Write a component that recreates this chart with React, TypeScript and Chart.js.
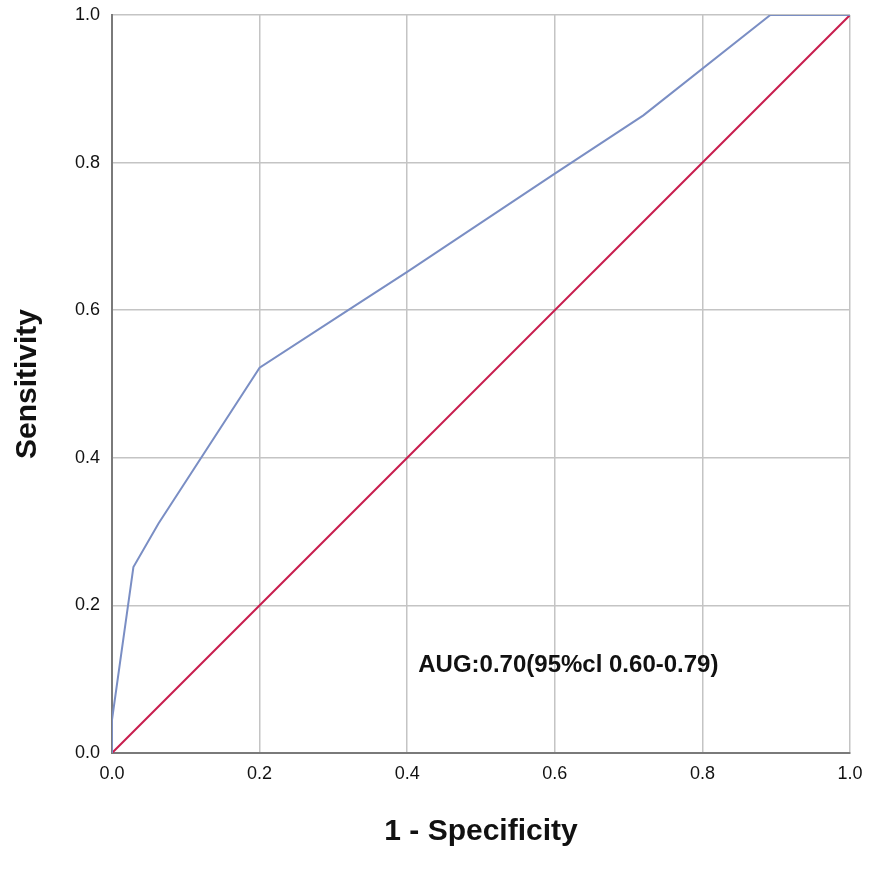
import { useEffect, useRef } from "react";
import { Chart, ChartConfiguration, Plugin, registerables } from "chart.js";

Chart.register(...registerables);

// ROC curve
const rocFpr = [0, 0, 0.029, 0.063, 0.2, 0.32, 0.4, 0.6, 0.72, 0.892, 1.0];
const rocTpr = [0, 0.045, 0.252, 0.311, 0.522, 0.6, 0.652, 0.785, 0.864, 1.0, 1.0];

// chance line
const refFpr = [0, 1];
const refTpr = [0, 1];

const axisTicks = [0, 0.2, 0.4, 0.6, 0.8, 1.0];

const annotationText = "AUG:0.70(95%cl 0.60-0.79)";
const annotationAt = { x: 0.415, y: 0.11 };

const FONT = "'Liberation Sans', Arial, sans-serif";

const annotationPlugin: Plugin = {
  id: "aucLabel",
  afterDatasetsDraw(chart) {
    const { ctx, scales } = chart;
    const x = scales.x.getPixelForValue(annotationAt.x);
    const y = scales.y.getPixelForValue(annotationAt.y);
    ctx.save();
    ctx.font = `bold 24px ${FONT}`;
    ctx.fillStyle = "#111";
    ctx.textAlign = "left";
    ctx.textBaseline = "alphabetic";
    ctx.fillText(annotationText, x, y);
    ctx.restore();
  },
};

export default function App() {
  const canvasRef = useRef<HTMLCanvasElement>(null);
  const chartRef = useRef<Chart | null>(null);

  useEffect(() => {
    if (!canvasRef.current) return;
    const ctx = canvasRef.current.getContext("2d");
    if (!ctx) return;

    if (chartRef.current) chartRef.current.destroy();

    const config: ChartConfiguration = {
      type: "scatter",
      data: {
        datasets: [
          {
            label: "ROC",
            data: rocFpr.map((x, i) => ({ x, y: rocTpr[i] })),
            showLine: true,
            borderColor: "#7a8ec4",
            borderWidth: 2,
            pointRadius: 0,
            tension: 0,
          },
          {
            label: "Reference",
            data: refFpr.map((x, i) => ({ x, y: refTpr[i] })),
            showLine: true,
            borderColor: "#c81e4e",
            borderWidth: 2,
            pointRadius: 0,
            tension: 0,
          },
        ],
      },
      options: {
        responsive: false,
        animation: false,
        layout: { padding: { top: 15, right: 36, left: 0, bottom: 0 } },
        plugins: {
          legend: { display: false },
          tooltip: { enabled: false },
        },
        scales: {
          x: {
            type: "linear",
            min: 0,
            max: 1,
            afterFit: (scale) => {
              scale.height = 117;
            },
            afterBuildTicks: (scale) => {
              scale.ticks = axisTicks.map((value) => ({ value }));
            },
            grid: { color: "#c4c4c4", lineWidth: 1.5, drawTicks: false },
            border: { color: "#7a7a7a", width: 2 },
            ticks: {
              padding: 10,
              color: "#111",
              font: { family: FONT, size: 18 },
              callback: (v) => Number(v).toFixed(1),
            },
            title: {
              display: true,
              text: "1 - Specificity",
              color: "#111",
              font: { family: FONT, size: 30, weight: "bold", lineHeight: 1 },
              padding: { top: 0, bottom: 23 },
            },
          },
          y: {
            type: "linear",
            min: 0,
            max: 1,
            afterFit: (scale) => {
              scale.width = 112;
              scale.paddingTop = 0;
              scale.paddingBottom = 0;
            },
            afterBuildTicks: (scale) => {
              scale.ticks = axisTicks.map((value) => ({ value }));
            },
            grid: { color: "#c4c4c4", lineWidth: 1.5, drawTicks: false },
            border: { color: "#7a7a7a", width: 2 },
            ticks: {
              padding: 12,
              color: "#111",
              font: { family: FONT, size: 18 },
              callback: (v) => Number(v).toFixed(1),
            },
            title: {
              display: true,
              text: "Sensitivity",
              color: "#111",
              font: { family: FONT, size: 30, weight: "bold", lineHeight: 1 },
              padding: { top: 13, bottom: 0 },
            },
          },
        },
      },
      plugins: [annotationPlugin],
    };

    chartRef.current = new Chart(ctx, config);

    return () => {
      if (chartRef.current) {
        chartRef.current.destroy();
        chartRef.current = null;
      }
    };
  }, []);

  return (
    <div style={{ position: "absolute", left: 0, top: 0, width: 886, height: 870, background: "#fff" }}>
      <canvas ref={canvasRef} width={886} height={870} data-testid="chart-roc" />
    </div>
  );
}
